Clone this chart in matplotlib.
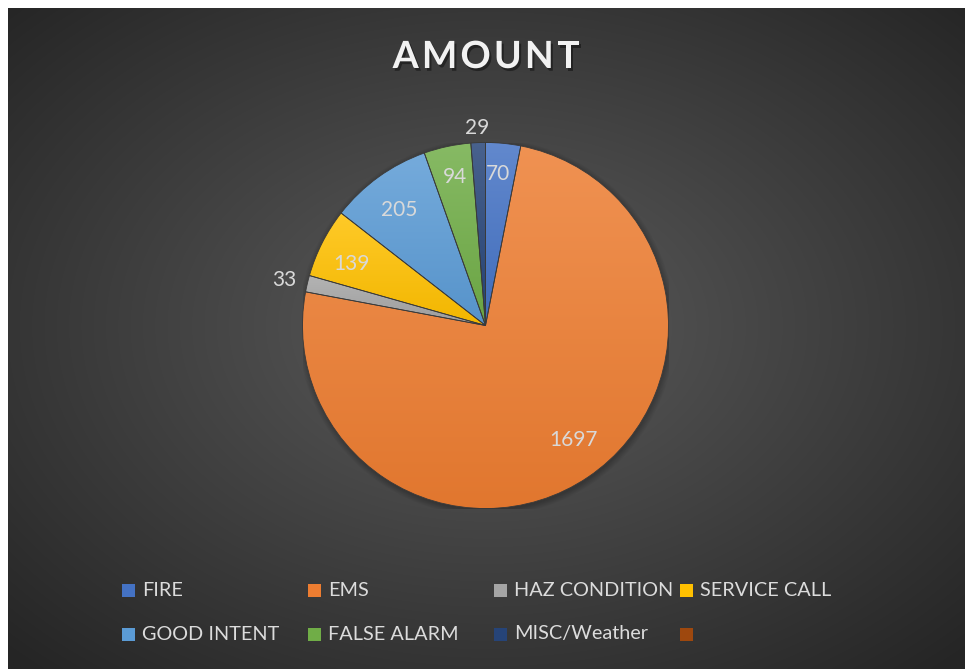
import numpy as np
import matplotlib
matplotlib.use("Agg")
import matplotlib.pyplot as plt
from matplotlib.patches import Rectangle, Circle
from matplotlib.colors import to_rgb
import matplotlib.patheffects as pe

# ---- data ----
categories = ["FIRE", "EMS", "HAZ CONDITION", "SERVICE CALL", "GOOD INTENT",
              "FALSE ALARM", "MISC/Weather", ""]
values = [70, 1697, 33, 139, 205, 94, 29, 0]
colors = ["#4472C4", "#ED7D31", "#A5A5A5", "#FFC000", "#5B9BD5",
          "#70AD47", "#264478", "#9E480E"]
label_dist = [0.84, 0.78, 1.13, 0.81, 0.80, 0.84, 1.09, 1.0]
label_shift = [-1.0, -4.0, 0.0, -1.5, -0.5, 0.5, 0.0, 0.0]  # degrees
title = "AMOUNT"

FONT = "Lato"
W, H = 968, 669
fig = plt.figure(figsize=(W / 100, H / 100), dpi=100, facecolor="white")

# ---- background radial gradient ----
bx0, by0, bx1, by1 = 8, 8, 965, 669  # pixel box (from top)
bg = fig.add_axes([bx0 / W, 1 - by1 / H, (bx1 - bx0) / W, (by1 - by0) / H])
bg.set_axis_off()
ny, nx = 330, 480
yy, xx = np.mgrid[0:ny, 0:nx]
cx, cy = nx * 0.50, ny * 0.48
r = np.sqrt(((xx - cx) / (nx / 2)) ** 2 + ((yy - cy) / (ny / 2)) ** 2) / np.sqrt(2)
r = np.clip(r, 0, 1)
inner, outer = 0x5c / 255, 0x25 / 255
v = inner + (outer - inner) * r
img = np.dstack([v, v, v])
bg.imshow(img, aspect="auto", extent=[0, 1, 0, 1], interpolation="bilinear")
bg.set_xlim(0, 1)
bg.set_ylim(0, 1)

# ---- pie ----
pcx, pcy, pr = 485.5, 325.5, 183
ax = fig.add_axes([(pcx - pr) / W, 1 - (pcy + pr) / H, 2 * pr / W, 2 * pr / H])
ax.set_axis_off()
ax.set_xlim(-1, 1)
ax.set_ylim(-1, 1)
ax.set_aspect("equal")
ax.patch.set_alpha(0)

# soft shadow
for k in range(6):
    ax.add_patch(Circle((0.006, -0.010), 1.0 + 0.006 * k, color="black",
                        alpha=0.035, lw=0, zorder=0))

wedges, _ = ax.pie(values, colors=colors, startangle=90, counterclock=False,
                   radius=1, wedgeprops=dict(linewidth=0.6, edgecolor="#3a3a3a"),
                   labels=None)


def mix(c, t, amt):
    c = np.array(to_rgb(c))
    return c + (np.array(t) - c) * amt


for w, c in zip(wedges, colors):
    path = w.get_path()
    verts = path.vertices
    if len(verts) == 0:
        continue
    ymin, ymax = verts[:, 1].min(), verts[:, 1].max()
    xmin, xmax = verts[:, 0].min(), verts[:, 0].max()
    if ymax - ymin < 1e-6:
        continue
    top = mix(c, (1, 1, 1), 0.16)
    bot = mix(c, (0, 0, 0), 0.05)
    t = np.linspace(0, 1, 200)[:, None]
    grad = top[None, :] * (1 - t) + bot[None, :] * t
    gimg = np.repeat(grad[:, None, :], 2, axis=1)
    im = ax.imshow(gimg, extent=[xmin, xmax, ymin, ymax], aspect="auto",
                   interpolation="bilinear", zorder=2.5)
    im.set_clip_path(w)
    w.set_facecolor("none")
    w.set_zorder(3)

ax.set_xlim(-1, 1)
ax.set_ylim(-1, 1)

total = sum(values)
cum = 0
for val, d, sh in zip(values, label_dist, label_shift):
    if val == 0:
        continue
    mid = (cum + val / 2) / total * 2 * np.pi + np.radians(sh)
    x = d * np.sin(mid)
    y = d * np.cos(mid)
    ax.text(x, y, str(val), ha="center", va="center_baseline", color="#D9D9D9",
            fontsize=15, family=FONT, zorder=5)
    cum += val

# ---- title (letter-spaced) ----
renderer = fig.canvas.get_renderer()
tracking = 3.2  # px between letters
tprops = dict(fontsize=27, fontweight="bold", family=FONT, color="#F2F2F2",
              va="center", ha="left",
              path_effects=[pe.withSimplePatchShadow(offset=(1.5, -2), shadow_rgbFace="black", alpha=0.4)])
widths = []
for ch in title:
    tt = fig.text(0, 0, ch, **tprops)
    widths.append(tt.get_window_extent(renderer).width)
    tt.remove()
total_w = sum(widths) + tracking * (len(title) - 1)
x = 486 - total_w / 2
for ch, wch in zip(title, widths):
    fig.text(x / W, 1 - 57 / H, ch, **tprops)
    x += wch + tracking

# ---- legend ----
col_x = [122, 308, 494, 680]
row_y = [590, 634]
sq = 13
for i, (name, c) in enumerate(zip(categories, colors)):
    col, row = i % 4, i // 4
    mx, my = col_x[col], row_y[row]
    fig.patches.append(Rectangle((mx / W, 1 - (my + sq / 2) / H), sq / W, sq / H,
                                 transform=fig.transFigure, facecolor=c,
                                 edgecolor="none"))
    if name:
        fig.text((mx + sq + 7) / W, 1 - my / H, name, ha="left", va="center",
                 fontsize=14.3, family=FONT, color="#DCDCDC")

fig.savefig("out.png", dpi=100, facecolor="white")
